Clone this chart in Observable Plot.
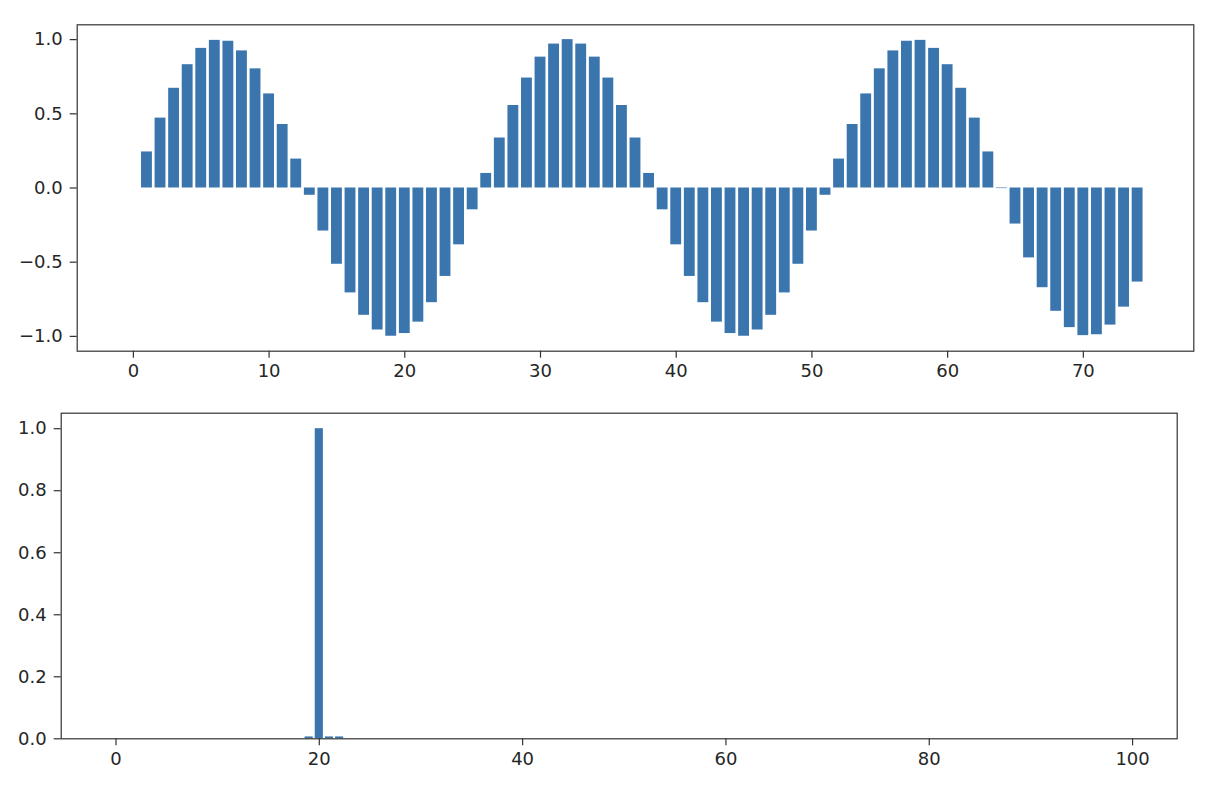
<!DOCTYPE html>
<html>
<head>
<meta charset="utf-8">
<script src="https://cdn.jsdelivr.net/npm/d3@7"></script>
<script src="https://cdn.jsdelivr.net/npm/@observablehq/plot@0.6"></script>
<style>
  html, body { margin: 0; padding: 0; background: #fff; }
  #fig { position: relative; width: 1214px; height: 796px; background: #fff; }
  #fig svg { position: absolute; left: 0; }
</style>
</head>
<body>
<div id="fig"></div>
<script>
// ---- Top panel: signal samples (index 0..74) ----
const signalIndex = d3.range(0, 75);
const signalValues = [
  0.000, 0.243, 0.471, 0.672, 0.831, 0.941, 0.995, 0.989, 0.924, 0.803,
  0.634, 0.428, 0.195, -0.049, -0.290, -0.514, -0.707, -0.858, -0.957, -0.999,
  -0.981, -0.904, -0.773, -0.596, -0.383, -0.147, 0.098, 0.337, 0.556, 0.741,
  0.882, 0.970, 1.000, 0.970, 0.882, 0.741, 0.556, 0.337, 0.098, -0.147,
  -0.383, -0.596, -0.773, -0.904, -0.981, -0.999, -0.957, -0.858, -0.707, -0.514,
  -0.290, -0.049, 0.195, 0.428, 0.634, 0.803, 0.924, 0.989, 0.995, 0.941,
  0.831, 0.672, 0.471, 0.243, -0.004, -0.243, -0.471, -0.672, -0.831, -0.941,
  -0.995, -0.989, -0.924, -0.803, -0.634
];
const topXTicks = [0, 10, 20, 30, 40, 50, 60, 70];
const topYTicks = [-1.0, -0.5, 0.0, 0.5, 1.0];

// ---- Bottom panel: spectrum magnitudes (bin 0..99) ----
const spectrumIndex = d3.range(0, 100);
const spectrumValues = [
  0, 0, 0, 0, 0, 0, 0, 0, 0, 0,
  0, 0, 0, 0, 0, 0, 0, 0, 0, 0.006,
  1.0, 0.006, 0.006, 0, 0, 0, 0, 0, 0, 0,
  0, 0, 0, 0, 0, 0, 0, 0, 0, 0,
  0, 0, 0, 0, 0, 0, 0, 0, 0, 0,
  0, 0, 0, 0, 0, 0, 0, 0, 0, 0,
  0, 0, 0, 0, 0, 0, 0, 0, 0, 0,
  0, 0, 0, 0, 0, 0, 0, 0, 0, 0,
  0, 0, 0, 0, 0, 0, 0, 0, 0, 0,
  0, 0, 0, 0, 0, 0, 0, 0, 0, 0
];
const bottomXTicks = [0, 20, 40, 60, 80, 100];
const bottomYTicks = [0.0, 0.2, 0.4, 0.6, 0.8, 1.0];

const barColor = "#3a75ae";
const spineColor = "#333333";
const textColor = "#262626";
const barHalf = 0.4;
const fmt = d3.format(".1f");
const fmtInt = d3.format("d");
const tickFont = 18;

const topData = signalIndex.map((x, i) => ({x, y: signalValues[i]}));
const bottomData = spectrumIndex.map((x, i) => ({x, y: spectrumValues[i]}));

const baseStyle = {
  fontFamily: "'DejaVu Sans', sans-serif",
  fontSize: "18px",
  color: textColor,
  background: "transparent",
  overflow: "visible"
};

function axes(xt, yt) {
  return [
    Plot.axisX({ticks: xt, tickFormat: fmtInt, tickSize: 7, tickPadding: 6, stroke: spineColor, strokeWidth: 1.2, fill: textColor, fontSize: tickFont, label: null}),
    Plot.axisY({ticks: yt, tickFormat: fmt, tickSize: 7, tickPadding: 7.5, stroke: spineColor, strokeWidth: 1.2, fill: textColor, fontSize: tickFont, label: null}),
    Plot.frame({stroke: spineColor, strokeWidth: 1.2})
  ];
}

const topPlot = Plot.plot({
  width: 1214,
  height: 382,
  marginLeft: 76.7,
  marginRight: 20.7,
  marginTop: 24.3,
  marginBottom: 31.3,
  style: baseStyle,
  x: {type: "linear", domain: [-4.14, 78.14]},
  y: {type: "linear", domain: [-1.0999, 1.0999]},
  marks: [
    Plot.rect(topData, {
      x1: d => d.x - barHalf,
      x2: d => d.x + barHalf,
      y1: () => 0,
      y2: "y",
      fill: barColor
    }),
    ...axes(topXTicks, topYTicks)
  ]
});
topPlot.style.top = "0px";

const bottomPlot = Plot.plot({
  width: 1214,
  height: 406,
  marginLeft: 60.7,
  marginRight: 37.3,
  marginTop: 22.7,
  marginBottom: 57.7,
  style: baseStyle,
  x: {type: "linear", domain: [-5.39, 104.39]},
  y: {type: "linear", domain: [0, 1.05]},
  marks: [
    Plot.rect(bottomData.filter(d => d.y !== 0), {
      x1: d => d.x - barHalf,
      x2: d => d.x + barHalf,
      y1: () => 0,
      y2: "y",
      fill: barColor
    }),
    ...axes(bottomXTicks, bottomYTicks)
  ]
});
bottomPlot.style.top = "390px";

const fig = document.getElementById("fig");
fig.appendChild(topPlot);
fig.appendChild(bottomPlot);
</script>
</body>
</html>
